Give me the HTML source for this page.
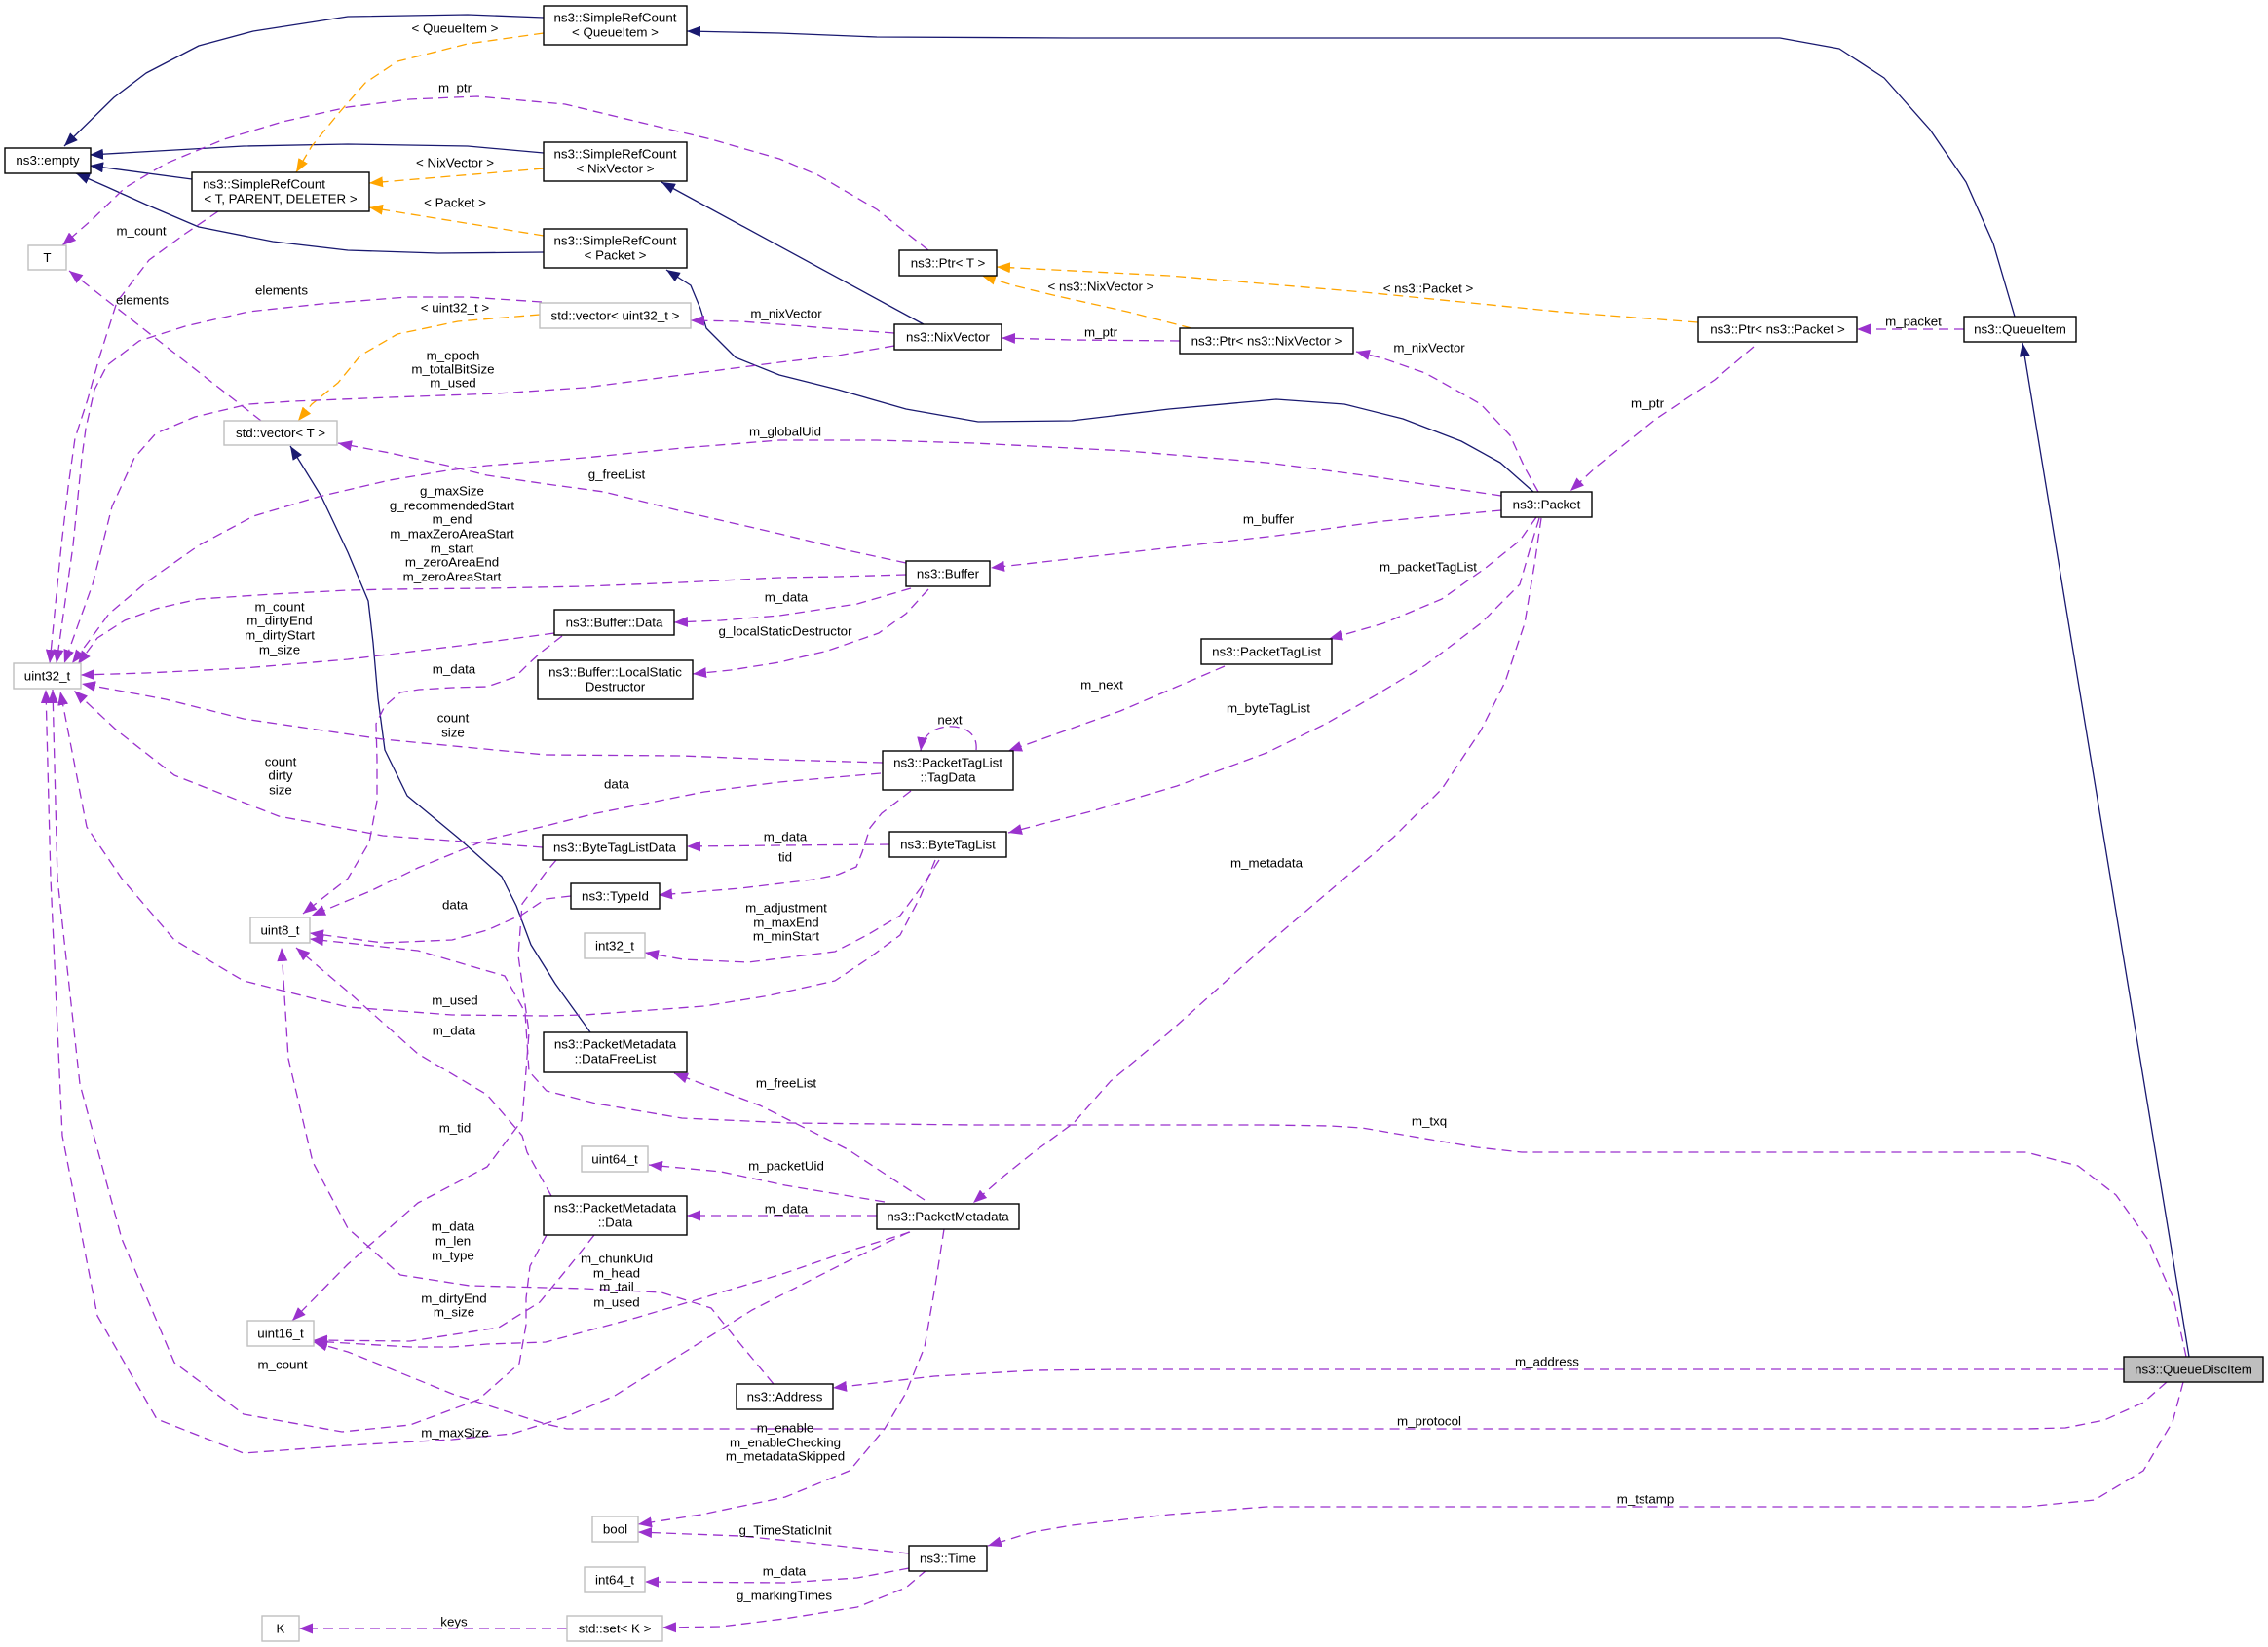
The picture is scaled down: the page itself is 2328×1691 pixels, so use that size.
<!DOCTYPE html>
<html>
<head>
<meta charset="utf-8">
<style>
html,body{margin:0;padding:0;background:#fff;}
svg{display:block;}
text{font-family:"Liberation Sans",Arial,sans-serif;font-size:13.33px;fill:#000;}
.n{fill:none;stroke:#191970;stroke-width:1.3;stroke-linejoin:round;}
.o{fill:none;stroke:#ffa500;stroke-width:1.3;stroke-dasharray:10 6;stroke-linejoin:round;}
.p{fill:none;stroke:#9a32cd;stroke-width:1.3;stroke-dasharray:10 6;stroke-linejoin:round;}
.b{fill:#fff;stroke:#000;stroke-width:1.4;}
.g{fill:#fff;stroke:#bfbfbf;stroke-width:1.4;}
.q{fill:#bfbfbf;stroke:#000;stroke-width:1.4;}
</style>
</head>
<body>
<svg width="2328" height="1691" viewBox="0 0 2328 1691" xmlns="http://www.w3.org/2000/svg">
<defs>
<marker id="mn" markerWidth="15" markerHeight="11" refX="14" refY="5.5" orient="auto" markerUnits="userSpaceOnUse" viewBox="0 0 15 11"><path d="M0,0 L14,5.5 L0,11 z" fill="#191970" stroke="none"/></marker>
<marker id="mo" markerWidth="15" markerHeight="11" refX="14" refY="5.5" orient="auto" markerUnits="userSpaceOnUse" viewBox="0 0 15 11"><path d="M0,0 L14,5.5 L0,11 z" fill="#ffa500" stroke="none"/></marker>
<marker id="mp" markerWidth="15" markerHeight="11" refX="14" refY="5.5" orient="auto" markerUnits="userSpaceOnUse" viewBox="0 0 15 11"><path d="M0,0 L14,5.5 L0,11 z" fill="#9a32cd" stroke="none"/></marker>
</defs>

<!-- Navy inheritance edges -->
<g class="n">
<polyline marker-end="url(#mn)" points="558,18 480,15 357,17 260,32 204,47 150,75 117,100 66,150"/>
<polyline marker-end="url(#mn)" points="558,157 480,150 357,148 250,150 92,159"/>
<polyline marker-end="url(#mn)" points="197,184 92,170"/>
<polyline marker-end="url(#mn)" points="558,259 450,260 357,257 280,248 204,233 150,210 110,192 78,178"/>
<polyline marker-end="url(#mn)" points="2068,325 2046,250 2018,187 1981,133 1934,80 1888,50 1827,39 1100,39 900,38 800,34 705,32"/>
<polyline marker-end="url(#mn)" points="948,333 679,187"/>
<polyline marker-end="url(#mn)" points="1574,505 1540,475 1500,453 1440,430 1380,415 1310,410 1200,420 1100,432 1004,433 930,420 860,400 800,385 755,367 725,337 719,317 709,293 684,277"/>
<polyline marker-end="url(#mn)" points="2247,1393 2076,352"/>
<polyline marker-end="url(#mn)" points="606,1060 570,1010 545,970 530,930 515,900 470,860 418,817 395,770 388,717 383,660 378,617 357,567 330,510 298,458"/>
</g>

<!-- Orange template edges -->
<g class="o">
<polyline marker-end="url(#mo)" points="558,34 480,45 408,63 375,85 347,117 320,150 304,177"/>
<polyline marker-end="url(#mo)" points="558,173 379,188"/>
<polyline marker-end="url(#mo)" points="558,242 379,213"/>
<polyline marker-end="url(#mo)" points="554,323 470,330 408,343 370,365 347,393 320,415 306,432"/>
<polyline marker-end="url(#mo)" points="1223,337 1157,320 1081,303 1040,293 1008,283"/>
<polyline marker-end="url(#mo)" points="1743,331 1600,320 1400,300 1200,283 1023,274"/>
</g>

<!-- Purple member edges -->
<g class="p">
<polyline marker-end="url(#mp)" points="953,257 900,215 840,180 800,163 730,143 663,127 580,107 490,99 420,102 357,110 290,125 230,143 170,168 128,193 95,225 64,252"/>
<polyline marker-end="url(#mp)" points="224,217 190,240 153,267 120,310 102,367 90,410 77,450 70,500 63,560 57,620 51,681"/>
<polyline marker-end="url(#mp)" points="268,432 71,278"/>
<polyline marker-end="url(#mp)" points="556,310 480,305 418,305 330,312 255,320 190,335 143,350 110,375 97,400 88,440 84,470 75,560 58,681"/>
<polyline marker-end="url(#mp)" points="918,342 850,337 800,333 760,330 709,329"/>
<polyline marker-end="url(#mp)" points="918,355 860,365 800,372 700,385 600,398 510,404 400,408 300,412 255,415 200,428 160,445 138,470 115,520 95,600 66,681"/>
<polyline marker-end="url(#mp)" points="1211,350 1100,349 1028,347"/>
<polyline marker-end="url(#mp)" points="1579,505 1565,480 1550,447 1520,415 1490,398 1463,383 1420,368 1392,361"/>
<polyline marker-end="url(#mp)" points="1800,356 1760,390 1700,430 1660,462 1640,478 1612,504"/>
<polyline marker-end="url(#mp)" points="2016,338 1906,338"/>
<polyline marker-end="url(#mp)" points="1541,509 1400,488 1300,475 1157,463 1000,455 900,452 800,452 700,460 600,470 500,478 459,483 400,493 327,510 260,530 204,560 150,598 112,630 90,660 74,681"/>
<polyline marker-end="url(#mp)" points="930,578 870,565 800,548 700,525 620,505 561,497 500,488 459,478 400,465 347,455"/>
<polyline marker-end="url(#mp)" points="1541,524 1420,535 1310,550 1150,568 1017,583"/>
<polyline marker-end="url(#mp)" points="930,590 860,592 800,593 700,598 600,602 500,604 400,605 357,606 280,610 204,615 160,625 128,637 100,655 80,682"/>
<polyline marker-end="url(#mp)" points="935,604 880,620 800,632 740,637 692,639"/>
<polyline marker-end="url(#mp)" points="953,605 930,630 902,650 850,668 800,680 750,688 711,692"/>
<polyline marker-end="url(#mp)" points="569,650 480,662 357,677 250,686 150,691 83,693"/>
<polyline marker-end="url(#mp)" points="577,653 555,670 541,683 529,695 500,705 464,706 430,708 411,711 395,725 386,743 387,780 387,822 379,865 357,902 311,938"/>
<polyline marker-end="url(#mp)" points="906,783 800,780 700,776 560,775 393,759 250,738 170,718 84,702"/>
<polyline marker-end="url(#mp)" points="904,794 800,803 723,813 612,835 560,848 500,862 429,891 380,915 320,940"/>
<polyline marker-end="url(#mp)" points="935,812 905,835 893,850 885,875 879,890 860,898 835,903 760,912 676,919"/>
<path marker-end="url(#mp)" d="M1002,770 C1004,750 985,745 973,746 C958,747 947,755 945,771"/>
<polyline marker-end="url(#mp)" points="1257,684 1150,730 1035,771"/>
<polyline marker-end="url(#mp)" points="1577,531 1560,555 1525,583 1480,615 1420,640 1364,656"/>
<polyline marker-end="url(#mp)" points="1580,532 1570,565 1560,600 1520,640 1463,683 1410,715 1361,743 1300,773 1208,807 1120,833 1035,855"/>
<polyline marker-end="url(#mp)" points="1582,532 1575,580 1565,640 1545,700 1520,750 1480,810 1430,860 1382,900 1300,970 1200,1060 1140,1110 1102,1153 1061,1183 1031,1207 999,1235"/>
<polyline marker-end="url(#mp)" points="557,870 393,858 286,838 179,796 120,750 76,709"/>
<polyline marker-end="url(#mp)" points="913,867 800,868 705,869"/>
<polyline marker-end="url(#mp)" points="964,883 950,905 924,940 890,960 857,977 768,988 701,985 662,978"/>
<polyline marker-end="url(#mp)" points="960,883 945,920 924,960 890,985 857,1007 790,1022 723,1033 600,1042 560,1043 464,1042 357,1034 250,1007 179,965 125,902 89,849 62,710"/>
<polyline marker-end="url(#mp)" points="586,920 560,923 536,939 500,955 464,965 393,968 318,958"/>
<polyline marker-end="url(#mp)" points="571,883 560,896 536,928 532,981 543,1060 536,1150 500,1198 429,1235 357,1298 300,1356"/>
<polyline marker-end="url(#mp)" points="949,1232 870,1180 780,1135 692,1102"/>
<polyline marker-end="url(#mp)" points="908,1234 806,1217 740,1203 666,1196"/>
<polyline marker-end="url(#mp)" points="900,1248 705,1248"/>
<polyline marker-end="url(#mp)" points="934,1265 870,1285 806,1307 730,1330 653,1353 560,1378 500,1380 464,1383 421,1383 322,1377"/>
<polyline marker-end="url(#mp)" points="610,1268 582,1303 554,1337 512,1363 421,1377 322,1376"/>
<polyline marker-end="url(#mp)" points="561,1268 544,1300 540,1333 540,1360 533,1400 491,1437 421,1463 351,1470 250,1452 179,1399 125,1272 82,1113 59,902 54,708"/>
<polyline marker-end="url(#mp)" points="933,1265 870,1295 772,1345 700,1390 631,1433 580,1455 526,1472 464,1478 357,1484 250,1492 161,1457 100,1351 64,1166 52,902 47,708"/>
<polyline marker-end="url(#mp)" points="969,1262 960,1320 949,1383 930,1430 908,1467 872,1510 806,1537 720,1555 655,1565"/>
<polyline marker-end="url(#mp)" points="933,1595 850,1586 760,1577 655,1573"/>
<polyline marker-end="url(#mp)" points="933,1610 880,1620 805,1625 662,1624"/>
<polyline marker-end="url(#mp)" points="951,1612 930,1630 880,1650 805,1662 740,1670 680,1671"/>
<polyline marker-end="url(#mp)" points="582,1672 307,1672"/>
<polyline marker-end="url(#mp)" points="2180,1406 1700,1406 1300,1406 1150,1406 1061,1407 959,1413 855,1425"/>
<polyline marker-end="url(#mp)" points="2224,1419 2200,1440 2160,1458 2120,1466 2080,1467 1500,1467 1000,1467 582,1467 560,1462 464,1431 400,1405 357,1388 322,1378"/>
<polyline marker-end="url(#mp)" points="2241,1419 2230,1460 2200,1510 2150,1540 2080,1547 1400,1547 1300,1547 1200,1555 1100,1566 1060,1573 1014,1587"/>
<polyline marker-end="url(#mp)" points="2244,1393 2231,1333 2205,1273 2172,1227 2133,1197 2080,1183 1562,1183 1516,1178 1451,1167 1398,1158 1366,1156 1300,1155 1000,1155 812,1153 700,1148 612,1133 561,1120 543,1100 539,1040 536,1034 518,1002 429,976 318,964"/>
<polyline marker-end="url(#mp)" points="566,1228 541,1183 536,1166 500,1124 429,1082 357,1018 304,973"/>
<polyline marker-end="url(#mp)" points="794,1421 760,1380 730,1343 679,1327 600,1323 560,1322 482,1320 411,1309 357,1261 321,1193 296,1087 289,973"/>
</g>

<!-- Nodes -->
<g>
<rect class="b" x="5" y="152" width="88" height="26"/><text x="49" y="169" text-anchor="middle">ns3::empty</text>
<rect class="b" x="197" y="177" width="182" height="40"/><text x="208" y="193.5">ns3::SimpleRefCount</text><text x="288" y="208.5" text-anchor="middle">&lt; T, PARENT, DELETER &gt;</text>
<rect class="b" x="558" y="6" width="147" height="40"/><text x="631.5" y="22.5" text-anchor="middle">ns3::SimpleRefCount</text><text x="631.5" y="37.5" text-anchor="middle">&lt; QueueItem &gt;</text>
<rect class="b" x="558" y="146" width="147" height="40"/><text x="631.5" y="162.5" text-anchor="middle">ns3::SimpleRefCount</text><text x="631.5" y="177.5" text-anchor="middle">&lt; NixVector &gt;</text>
<rect class="b" x="558" y="235" width="147" height="40"/><text x="631.5" y="251.5" text-anchor="middle">ns3::SimpleRefCount</text><text x="631.5" y="266.5" text-anchor="middle">&lt; Packet &gt;</text>
<rect class="b" x="923" y="257" width="100" height="26"/><text x="973" y="274.5" text-anchor="middle">ns3::Ptr&lt; T &gt;</text>
<rect class="b" x="918" y="333" width="110" height="26"/><text x="973" y="350.5" text-anchor="middle">ns3::NixVector</text>
<rect class="b" x="1211" y="337" width="178" height="26"/><text x="1300" y="354.5" text-anchor="middle">ns3::Ptr&lt; ns3::NixVector &gt;</text>
<rect class="b" x="1743" y="325" width="163" height="26"/><text x="1824.5" y="342.5" text-anchor="middle">ns3::Ptr&lt; ns3::Packet &gt;</text>
<rect class="b" x="2016" y="325" width="115" height="26"/><text x="2073.5" y="342.5" text-anchor="middle">ns3::QueueItem</text>
<rect class="b" x="1541" y="505" width="93" height="26"/><text x="1587.5" y="522.5" text-anchor="middle">ns3::Packet</text>
<rect class="b" x="930" y="576" width="86" height="26"/><text x="973" y="593.5" text-anchor="middle">ns3::Buffer</text>
<rect class="b" x="569" y="626" width="123" height="26"/><text x="630.5" y="643.5" text-anchor="middle">ns3::Buffer::Data</text>
<rect class="b" x="552" y="678" width="159" height="40"/><text x="631.5" y="694.5" text-anchor="middle">ns3::Buffer::LocalStatic</text><text x="631.5" y="709.5" text-anchor="middle">Destructor</text>
<rect class="b" x="1233" y="656" width="134" height="26"/><text x="1300" y="673.5" text-anchor="middle">ns3::PacketTagList</text>
<rect class="b" x="906" y="771" width="134" height="40"/><text x="973" y="787.5" text-anchor="middle">ns3::PacketTagList</text><text x="973" y="802.5" text-anchor="middle">::TagData</text>
<rect class="b" x="557" y="857" width="148" height="26"/><text x="631" y="874.5" text-anchor="middle">ns3::ByteTagListData</text>
<rect class="b" x="913" y="854" width="120" height="26"/><text x="973" y="871.5" text-anchor="middle">ns3::ByteTagList</text>
<rect class="b" x="586" y="907" width="91" height="26"/><text x="631.5" y="924.5" text-anchor="middle">ns3::TypeId</text>
<rect class="b" x="558" y="1060" width="147" height="41"/><text x="631.5" y="1076.5" text-anchor="middle">ns3::PacketMetadata</text><text x="631.5" y="1091.5" text-anchor="middle">::DataFreeList</text>
<rect class="b" x="558" y="1228" width="147" height="40"/><text x="631.5" y="1244.5" text-anchor="middle">ns3::PacketMetadata</text><text x="631.5" y="1259.5" text-anchor="middle">::Data</text>
<rect class="b" x="900" y="1236" width="146" height="26"/><text x="973" y="1253.5" text-anchor="middle">ns3::PacketMetadata</text>
<rect class="b" x="756" y="1421" width="99" height="26"/><text x="805.5" y="1438.5" text-anchor="middle">ns3::Address</text>
<rect class="b" x="933" y="1587" width="80" height="26"/><text x="973" y="1604.5" text-anchor="middle">ns3::Time</text>
<rect class="q" x="2180" y="1393" width="143" height="26"/><text x="2251.5" y="1410.5" text-anchor="middle">ns3::QueueDiscItem</text>

<rect class="g" x="29" y="252" width="39" height="25"/><text x="48.5" y="269" text-anchor="middle">T</text>
<rect class="g" x="554" y="311" width="155" height="26"/><text x="631.5" y="328.5" text-anchor="middle">std::vector&lt; uint32_t &gt;</text>
<rect class="g" x="230" y="432" width="116" height="25"/><text x="288" y="449" text-anchor="middle">std::vector&lt; T &gt;</text>
<rect class="g" x="14" y="681" width="69" height="26"/><text x="48.5" y="698.5" text-anchor="middle">uint32_t</text>
<rect class="g" x="257" y="942" width="61" height="26"/><text x="287.5" y="959.5" text-anchor="middle">uint8_t</text>
<rect class="g" x="600" y="958" width="62" height="26"/><text x="631" y="975.5" text-anchor="middle">int32_t</text>
<rect class="g" x="597" y="1177" width="68" height="26"/><text x="631" y="1194.5" text-anchor="middle">uint64_t</text>
<rect class="g" x="254" y="1356" width="68" height="26"/><text x="288" y="1373.5" text-anchor="middle">uint16_t</text>
<rect class="g" x="608" y="1557" width="47" height="26"/><text x="631.5" y="1574.5" text-anchor="middle">bool</text>
<rect class="g" x="600" y="1609" width="62" height="26"/><text x="631" y="1626.5" text-anchor="middle">int64_t</text>
<rect class="g" x="582" y="1659" width="98" height="26"/><text x="631" y="1676.5" text-anchor="middle">std::set&lt; K &gt;</text>
<rect class="g" x="269" y="1659" width="38" height="26"/><text x="288" y="1676.5" text-anchor="middle">K</text>
</g>

<!-- Edge labels -->
<g text-anchor="middle">
<text x="467" y="33.5">&lt; QueueItem &gt;</text>
<text x="467" y="94.5">m_ptr</text>
<text x="467" y="171.5">&lt; NixVector &gt;</text>
<text x="467" y="212.5">&lt; Packet &gt;</text>
<text x="145" y="241.5">m_count</text>
<text x="146" y="312.5">elements</text>
<text x="289" y="302.5">elements</text>
<text x="467" y="320.5">&lt; uint32_t &gt;</text>
<text x="465" y="369.5">m_epoch</text>
<text x="465" y="383.5">m_totalBitSize</text>
<text x="465" y="397.5">m_used</text>
<text x="807" y="326.5">m_nixVector</text>
<text x="1130" y="298.5">&lt; ns3::NixVector &gt;</text>
<text x="1466" y="300.5">&lt; ns3::Packet &gt;</text>
<text x="1130" y="345.5">m_ptr</text>
<text x="1467" y="361.5">m_nixVector</text>
<text x="1964" y="334.5">m_packet</text>
<text x="1691" y="418.5">m_ptr</text>
<text x="806" y="447.5">m_globalUid</text>
<text x="633" y="491.5">g_freeList</text>
<text x="1302" y="537.5">m_buffer</text>
<text x="464" y="508.5">g_maxSize</text>
<text x="464" y="523.5">g_recommendedStart</text>
<text x="464" y="537.5">m_end</text>
<text x="464" y="552.5">m_maxZeroAreaStart</text>
<text x="464" y="567.5">m_start</text>
<text x="464" y="581.5">m_zeroAreaEnd</text>
<text x="464" y="596.5">m_zeroAreaStart</text>
<text x="1466" y="586.5">m_packetTagList</text>
<text x="807" y="617.5">m_data</text>
<text x="287" y="627.5">m_count</text>
<text x="287" y="641.5">m_dirtyEnd</text>
<text x="287" y="656.5">m_dirtyStart</text>
<text x="287" y="671.5">m_size</text>
<text x="806" y="652.5">g_localStaticDestructor</text>
<text x="466" y="691.5">m_data</text>
<text x="1131" y="707.5">m_next</text>
<text x="1302" y="731.5">m_byteTagList</text>
<text x="975" y="743.5">next</text>
<text x="465" y="741.5">count</text>
<text x="465" y="756.5">size</text>
<text x="288" y="786.5">count</text>
<text x="288" y="800.5">dirty</text>
<text x="288" y="815.5">size</text>
<text x="633" y="809.5">data</text>
<text x="806" y="863.5">m_data</text>
<text x="806" y="884.5">tid</text>
<text x="1300" y="890.5">m_metadata</text>
<text x="467" y="933.5">data</text>
<text x="807" y="936.5">m_adjustment</text>
<text x="807" y="951.5">m_maxEnd</text>
<text x="807" y="965.5">m_minStart</text>
<text x="467" y="1031.5">m_used</text>
<text x="466" y="1062.5">m_data</text>
<text x="807" y="1116.5">m_freeList</text>
<text x="1467" y="1155.5">m_txq</text>
<text x="467" y="1162.5">m_tid</text>
<text x="807" y="1201.5">m_packetUid</text>
<text x="807" y="1245.5">m_data</text>
<text x="465" y="1263.5">m_data</text>
<text x="465" y="1278.5">m_len</text>
<text x="465" y="1293.5">m_type</text>
<text x="633" y="1296.5">m_chunkUid</text>
<text x="633" y="1311.5">m_head</text>
<text x="633" y="1325.5">m_tail</text>
<text x="633" y="1341.5">m_used</text>
<text x="466" y="1337.5">m_dirtyEnd</text>
<text x="466" y="1351.5">m_size</text>
<text x="1588" y="1402.5">m_address</text>
<text x="290" y="1405.5">m_count</text>
<text x="1467" y="1463.5">m_protocol</text>
<text x="806" y="1470.5">m_enable</text>
<text x="806" y="1485.5">m_enableChecking</text>
<text x="806" y="1499.5">m_metadataSkipped</text>
<text x="467" y="1475.5">m_maxSize</text>
<text x="1689" y="1543.5">m_tstamp</text>
<text x="806" y="1575.5">g_TimeStaticInit</text>
<text x="805" y="1617.5">m_data</text>
<text x="805" y="1642.5">g_markingTimes</text>
<text x="466" y="1669.5">keys</text>
</g>
</svg>
</body>
</html>
